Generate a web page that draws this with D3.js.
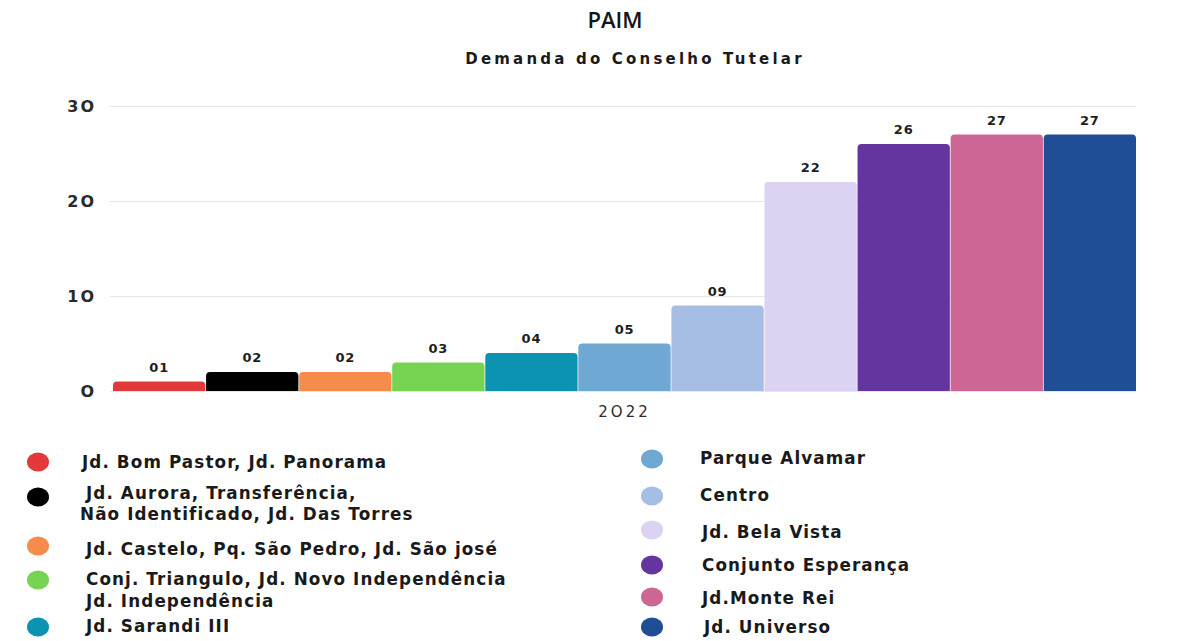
<!DOCTYPE html>
<html>
<head>
<meta charset="utf-8">
<script src="https://cdn.jsdelivr.net/npm/d3@7"></script>
<style>
  html, body { margin: 0; padding: 0; background: #ffffff; }
  svg { display: block; }
</style>
</head>
<body>
<svg id="chart" width="1177" height="641"></svg>
<script>
// ---------------- DATA ----------------
const title = "PAIM";
const subtitle = "Demanda do Conselho Tutelar";
const xCategory = "2022";
const categories = [
  ["Jd. Bom Pastor, Jd. Panorama"],
  ["Jd. Aurora, Transferência,", "Não Identificado, Jd. Das Torres"],
  ["Jd. Castelo, Pq. São Pedro, Jd. São josé"],
  ["Conj. Triangulo, Jd. Novo Independência", "Jd. Independência"],
  ["Jd. Sarandi III"],
  ["Parque Alvamar"],
  ["Centro"],
  ["Jd. Bela Vista"],
  ["Conjunto Esperança"],
  ["Jd.Monte Rei"],
  ["Jd. Universo"]
];
const values = [1, 2, 2, 3, 4, 5, 9, 22, 26, 27, 27];
const valueLabels = ["01", "02", "02", "03", "04", "05", "09", "22", "26", "27", "27"];
const colors = ["#e2393a", "#000000", "#f58c4c", "#77d352", "#0b93b1", "#6fa8d2",
                "#a7bee4", "#dcd2f1", "#64359f", "#cd6694", "#1f4e97"];
const yTicks = [0, 10, 20, 30];
const yTickLabels = ["O", "1O", "2O", "3O"];

// ---------------- LAYOUT ----------------
const svg = d3.select("#chart");
const plot = { left: 113, right: 1136, top: 106, bottom: 391 };
const boldFont = "'DejaVu Sans', sans-serif";

const x = d3.scaleBand()
  .domain(d3.range(values.length))
  .range([plot.left, plot.right])
  .paddingInner(0.008);

const y = d3.scaleLinear()
  .domain([0, 30])
  .range([plot.bottom, plot.top]);

// Titles
svg.append("text")
  .attr("x", 615).attr("y", 28)
  .attr("text-anchor", "middle")
  .attr("font-family", "'Open Sans', sans-serif")
  .attr("font-size", 22).attr("font-weight", 600)
  .attr("fill", "#151515")
  .text(title);

svg.append("text")
  .attr("x", 635).attr("y", 64)
  .attr("text-anchor", "middle")
  .attr("font-family", boldFont)
  .attr("font-size", 15).attr("font-weight", 700)
  .attr("letter-spacing", 3.2)
  .attr("fill", "#1a1a1a")
  .text(subtitle);

// Y axis with gridlines
const yAxis = d3.axisLeft(y)
  .tickValues(yTicks)
  .tickSize(-(plot.right - 110))
  .tickPadding(0)
  .tickFormat((d, i) => yTickLabels[i]);

const gy = svg.append("g")
  .attr("transform", `translate(${plot.right},0)`)
  .call(yAxis);
gy.select(".domain").remove();
gy.selectAll(".tick line")
  .attr("x1", 0)
  .attr("x2", -(plot.right - 110))
  .attr("stroke", "#e6e6e6")
  .attr("stroke-width", 1);
gy.selectAll(".tick text")
  .attr("x", -(plot.right - 96))
  .attr("text-anchor", "end")
  .attr("font-family", "'DejaVu Sans', sans-serif")
  .attr("font-size", 16).attr("font-weight", 600)
  .attr("letter-spacing", 2)
  .attr("fill", "#2b2b2b");

// Bars with rounded tops
const r = 4;
function barPath(i) {
  const x0 = x(i), x1 = x(i) + x.bandwidth();
  const y0 = y(values[i]), yb = y(0);
  const rr = Math.min(r, (yb - y0) / 2);
  return `M${x0},${yb} L${x0},${y0 + rr} Q${x0},${y0} ${x0 + rr},${y0}
          L${x1 - rr},${y0} Q${x1},${y0} ${x1},${y0 + rr} L${x1},${yb} Z`;
}

svg.append("g").selectAll("path")
  .data(values)
  .join("path")
  .attr("d", (d, i) => barPath(i))
  .attr("fill", (d, i) => colors[i]);

// Value labels
svg.append("g").selectAll("text")
  .data(values)
  .join("text")
  .attr("x", (d, i) => x(i) + x.bandwidth() / 2)
  .attr("y", d => y(d) - 10)
  .attr("text-anchor", "middle")
  .attr("font-family", boldFont)
  .attr("font-size", 13).attr("font-weight", 700)
  .attr("letter-spacing", 0.8)
  .attr("fill", "#1e1e1e")
  .text((d, i) => valueLabels[i]);

// X category label
svg.append("text")
  .attr("x", (plot.left + plot.right) / 2)
  .attr("y", 417)
  .attr("text-anchor", "middle")
  .attr("font-family", "'DejaVu Sans', sans-serif")
  .attr("font-size", 15).attr("font-weight", 400)
  .attr("letter-spacing", 3)
  .attr("fill", "#2b2b2b")
  .text(xCategory.replace(/0/g, "O"));

// Legend
const legendLayout = [
  { cx: 38, cy: 462, tx: 82, ty: [462] },
  { cx: 38, cy: 497, tx: 86, ty: [493, 514], tx2: 80 },
  { cx: 38, cy: 546, tx: 86, ty: [549] },
  { cx: 38, cy: 580, tx: 86, ty: [579, 601] },
  { cx: 38, cy: 627, tx: 86, ty: [626] },
  { cx: 652, cy: 459, tx: 700, ty: [458] },
  { cx: 652, cy: 496, tx: 700, ty: [495] },
  { cx: 652, cy: 530, tx: 702, ty: [532] },
  { cx: 652, cy: 565, tx: 702, ty: [565] },
  { cx: 652, cy: 597, tx: 702, ty: [598] },
  { cx: 652, cy: 627, tx: 704, ty: [627] }
];

const lg = svg.append("g");
categories.forEach((lines, i) => {
  const L = legendLayout[i];
  lg.append("ellipse")
    .attr("cx", L.cx).attr("cy", L.cy)
    .attr("rx", 11).attr("ry", 9.5)
    .attr("fill", colors[i]);
  lines.forEach((line, j) => {
    lg.append("text")
      .attr("x", j > 0 && L.tx2 ? L.tx2 : L.tx)
      .attr("y", L.ty[j])
      .attr("dy", "0.35em")
      .attr("font-family", boldFont)
      .attr("font-size", 16.8).attr("font-weight", 700)
      .attr("letter-spacing", 1.1)
      .attr("fill", "#1a1a1a")
      .text(line);
  });
});
</script>
</body>
</html>
